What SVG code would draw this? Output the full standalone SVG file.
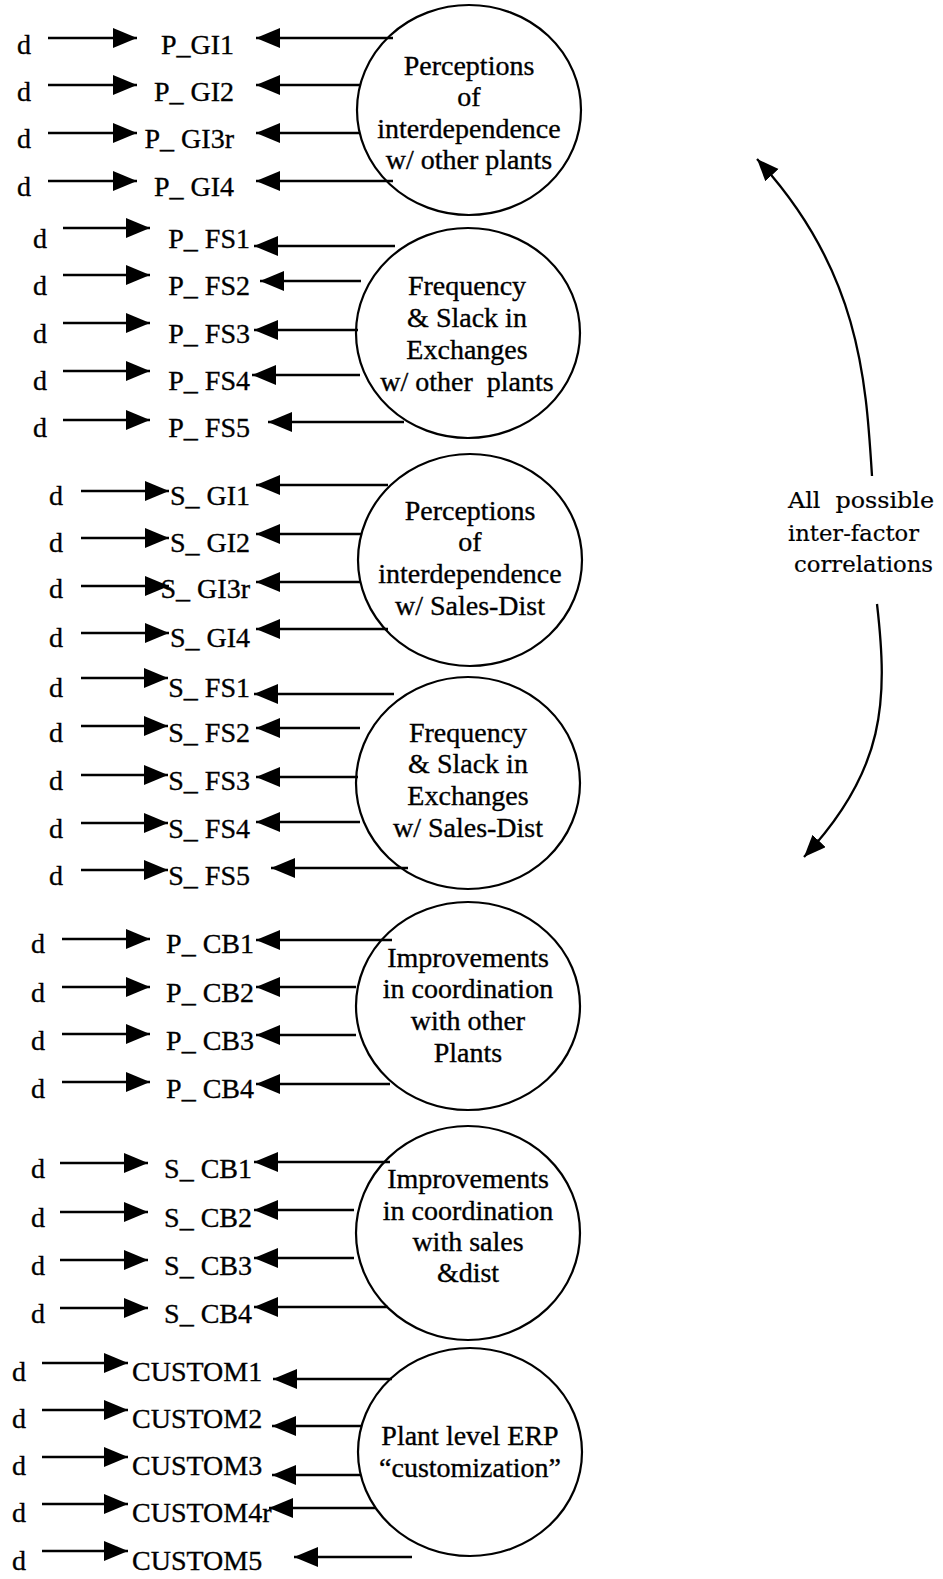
<svg xmlns="http://www.w3.org/2000/svg" width="943" height="1579" viewBox="0 0 943 1579">
  <style>
    text { font-family: "Liberation Serif", "Times New Roman", serif; font-size: 28px; fill: #000; stroke: #000; stroke-width: 0.35; }
    .lbl { text-anchor: end; white-space: pre; }
    .lbl-start { text-anchor: start; white-space: pre; }
    .fac text { text-anchor: middle; white-space: pre; }
    .fac ellipse { fill: none; stroke: #000; stroke-width: 2.2; }
    .note { font-family: "DejaVu Serif", "Liberation Serif", serif; font-size: 22px; white-space: pre; stroke-width: 0.2; }
    .conn path { fill: none; stroke: #000; stroke-width: 2.5; marker-end: url(#ah); }
    .conn path.curve { stroke-width: 2.3; marker-end: url(#ahc); }
  </style>
  <defs>
    <marker id="ah" markerUnits="userSpaceOnUse" markerWidth="26" markerHeight="22" refX="24" refY="10" orient="auto">
      <path d="M0,0 L24,10 L0,20 Z" fill="#000"/>
    </marker>
    <marker id="ahc" markerUnits="userSpaceOnUse" markerWidth="24" markerHeight="20" refX="22" refY="9" orient="auto">
      <path d="M0,0 L22,9 L0,18 Z" fill="#000"/>
    </marker>
  </defs>
  <rect width="943" height="1579" fill="#fff"/>

  <!-- error terms -->
  <g id="errors">
    <text x="17" y="54">d</text>
    <text x="17" y="101">d</text>
    <text x="17" y="148">d</text>
    <text x="17" y="196">d</text>
    <text x="33" y="248">d</text>
    <text x="33" y="295">d</text>
    <text x="33" y="343">d</text>
    <text x="33" y="390">d</text>
    <text x="33" y="437">d</text>
    <text x="49" y="505">d</text>
    <text x="49" y="552">d</text>
    <text x="49" y="598">d</text>
    <text x="49" y="647">d</text>
    <text x="49" y="697">d</text>
    <text x="49" y="742">d</text>
    <text x="49" y="790">d</text>
    <text x="49" y="838">d</text>
    <text x="49" y="885">d</text>
    <text x="31" y="953">d</text>
    <text x="31" y="1002">d</text>
    <text x="31" y="1050">d</text>
    <text x="31" y="1098">d</text>
    <text x="31" y="1178">d</text>
    <text x="31" y="1227">d</text>
    <text x="31" y="1275">d</text>
    <text x="31" y="1323">d</text>
    <text x="12" y="1381">d</text>
    <text x="12" y="1428">d</text>
    <text x="12" y="1475">d</text>
    <text x="12" y="1522">d</text>
    <text x="12" y="1570">d</text>
  </g>

  <!-- observed indicators -->
  <g id="P_GI1"><text class="lbl" x="234" y="54">P_GI1</text></g>
  <g id="P_GI2"><text class="lbl" x="234" y="101">P_ GI2</text></g>
  <g id="P_GI3r"><text class="lbl" x="234" y="148">P_ GI3r</text></g>
  <g id="P_GI4"><text class="lbl" x="234" y="196">P_ GI4</text></g>
  <g id="P_FS1"><text class="lbl" x="250" y="248">P_ FS1</text></g>
  <g id="P_FS2"><text class="lbl" x="250" y="295">P_ FS2</text></g>
  <g id="P_FS3"><text class="lbl" x="250" y="343">P_ FS3</text></g>
  <g id="P_FS4"><text class="lbl" x="250" y="390">P_ FS4</text></g>
  <g id="P_FS5"><text class="lbl" x="250" y="437">P_ FS5</text></g>
  <g id="S_GI1"><text class="lbl" x="250" y="505">S_ GI1</text></g>
  <g id="S_GI2"><text class="lbl" x="250" y="552">S_ GI2</text></g>
  <g id="S_GI3r"><text class="lbl" x="250" y="598">S_ GI3r</text></g>
  <g id="S_GI4"><text class="lbl" x="250" y="647">S_ GI4</text></g>
  <g id="S_FS1"><text class="lbl" x="250" y="697">S_ FS1</text></g>
  <g id="S_FS2"><text class="lbl" x="250" y="742">S_ FS2</text></g>
  <g id="S_FS3"><text class="lbl" x="250" y="790">S_ FS3</text></g>
  <g id="S_FS4"><text class="lbl" x="250" y="838">S_ FS4</text></g>
  <g id="S_FS5"><text class="lbl" x="250" y="885">S_ FS5</text></g>
  <g id="P_CB1"><text class="lbl" x="254" y="953">P_ CB1</text></g>
  <g id="P_CB2"><text class="lbl" x="254" y="1002">P_ CB2</text></g>
  <g id="P_CB3"><text class="lbl" x="254" y="1050">P_ CB3</text></g>
  <g id="P_CB4"><text class="lbl" x="254" y="1098">P_ CB4</text></g>
  <g id="S_CB1"><text class="lbl" x="252" y="1178">S_ CB1</text></g>
  <g id="S_CB2"><text class="lbl" x="252" y="1227">S_ CB2</text></g>
  <g id="S_CB3"><text class="lbl" x="252" y="1275">S_ CB3</text></g>
  <g id="S_CB4"><text class="lbl" x="252" y="1323">S_ CB4</text></g>
  <g id="CUSTOM1"><text class="lbl-start" x="132" y="1381">CUSTOM1</text></g>
  <g id="CUSTOM2"><text class="lbl-start" x="132" y="1428">CUSTOM2</text></g>
  <g id="CUSTOM3"><text class="lbl-start" x="132" y="1475">CUSTOM3</text></g>
  <g id="CUSTOM4r"><text class="lbl-start" x="132" y="1522">CUSTOM4r</text></g>
  <g id="CUSTOM5"><text class="lbl-start" x="132" y="1570">CUSTOM5</text></g>

  <!-- latent factors -->
  <g id="F_P_GI" class="fac">
    <ellipse cx="469" cy="110" rx="112" ry="105"/>
    <text x="469" y="75">Perceptions</text>
    <text x="469" y="106">of</text>
    <text x="469" y="138">interdependence</text>
    <text x="469" y="169">w/ other plants</text>
  </g>
  <g id="F_P_FS" class="fac">
    <ellipse cx="468" cy="333" rx="112" ry="105"/>
    <text x="467" y="295">Frequency</text>
    <text x="467" y="327">&amp; Slack in</text>
    <text x="467" y="359">Exchanges</text>
    <text x="467" y="391">w/ other  plants</text>
  </g>
  <g id="F_S_GI" class="fac">
    <ellipse cx="470" cy="560" rx="112" ry="106"/>
    <text x="470" y="520">Perceptions</text>
    <text x="470" y="551">of</text>
    <text x="470" y="583">interdependence</text>
    <text x="470" y="615">w/ Sales-Dist</text>
  </g>
  <g id="F_S_FS" class="fac">
    <ellipse cx="468" cy="783" rx="112" ry="106"/>
    <text x="468" y="742">Frequency</text>
    <text x="468" y="773">&amp; Slack in</text>
    <text x="468" y="805">Exchanges</text>
    <text x="468" y="837">w/ Sales-Dist</text>
  </g>
  <g id="F_P_CB" class="fac">
    <ellipse cx="468" cy="1006" rx="112" ry="104"/>
    <text x="468" y="967">Improvements</text>
    <text x="468" y="998">in coordination</text>
    <text x="468" y="1030">with other</text>
    <text x="468" y="1062">Plants</text>
  </g>
  <g id="F_S_CB" class="fac">
    <ellipse cx="468" cy="1233" rx="112" ry="107"/>
    <text x="468" y="1188">Improvements</text>
    <text x="468" y="1220">in coordination</text>
    <text x="468" y="1251">with sales</text>
    <text x="468" y="1282">&amp;dist</text>
  </g>
  <g id="F_CUSTOM" class="fac">
    <ellipse cx="470" cy="1452" rx="112" ry="104"/>
    <text x="470" y="1445">Plant level ERP</text>
    <text x="470" y="1477">“customization”</text>
  </g>

  <g id="correlation-note">
    <text class="note" x="788" y="508" textLength="146" lengthAdjust="spacingAndGlyphs">All  possible</text>
    <text class="note" x="788" y="541" textLength="131" lengthAdjust="spacingAndGlyphs">inter-factor</text>
    <text class="note" x="794" y="572" textLength="139" lengthAdjust="spacingAndGlyphs">correlations</text>
  </g>

  <!-- connectors -->
  <g id="connectors" class="conn">
    <!-- error -> indicator -->
    <path d="M48 38H137"/>
    <path d="M48 85H137"/>
    <path d="M48 133H137"/>
    <path d="M48 181H137"/>
    <path d="M63 228H150"/>
    <path d="M63 275H150"/>
    <path d="M63 323H150"/>
    <path d="M63 371H150"/>
    <path d="M63 420H150"/>
    <path d="M81 491H169"/>
    <path d="M81 538H169"/>
    <path d="M81 586H169"/>
    <path d="M81 633H169"/>
    <path d="M81 678H168"/>
    <path d="M81 726H168"/>
    <path d="M81 775H168"/>
    <path d="M81 823H168"/>
    <path d="M81 870H168"/>
    <path d="M62 939H150"/>
    <path d="M62 987H150"/>
    <path d="M62 1034H150"/>
    <path d="M62 1082H150"/>
    <path d="M60 1163H148"/>
    <path d="M60 1212H148"/>
    <path d="M60 1260H148"/>
    <path d="M60 1308H148"/>
    <path d="M42 1363H128"/>
    <path d="M42 1410H128"/>
    <path d="M42 1457H128"/>
    <path d="M42 1504H128"/>
    <path d="M42 1551H128"/>
    <!-- factor -> indicator -->
    <path d="M393 38H256"/>
    <path d="M361 85H256"/>
    <path d="M360 133H256"/>
    <path d="M393 181H256"/>
    <path d="M395 246H254"/>
    <path d="M361 281H260"/>
    <path d="M358 330H254"/>
    <path d="M360 375H252"/>
    <path d="M404 422H268"/>
    <path d="M388 485H256"/>
    <path d="M361 534H256"/>
    <path d="M361 582H256"/>
    <path d="M388 629H256"/>
    <path d="M394 694H254"/>
    <path d="M360 728H256"/>
    <path d="M358 777H256"/>
    <path d="M360 822H256"/>
    <path d="M408 868H271"/>
    <path d="M392 940H256"/>
    <path d="M356 987H256"/>
    <path d="M356 1035H256"/>
    <path d="M390 1084H256"/>
    <path d="M390 1162H254"/>
    <path d="M354 1210H254"/>
    <path d="M354 1258H254"/>
    <path d="M388 1307H254"/>
    <path d="M392 1379H273"/>
    <path d="M362 1426H272"/>
    <path d="M361 1475H272"/>
    <path d="M375 1508H269"/>
    <path d="M412 1557H294"/>
    <!-- inter-factor correlations -->
    <path class="curve" d="M872 476C866 380 860 270 757 159"/>
    <path class="curve" d="M877 604C888 700 886 770 804 857"/>
  </g>
</svg>
